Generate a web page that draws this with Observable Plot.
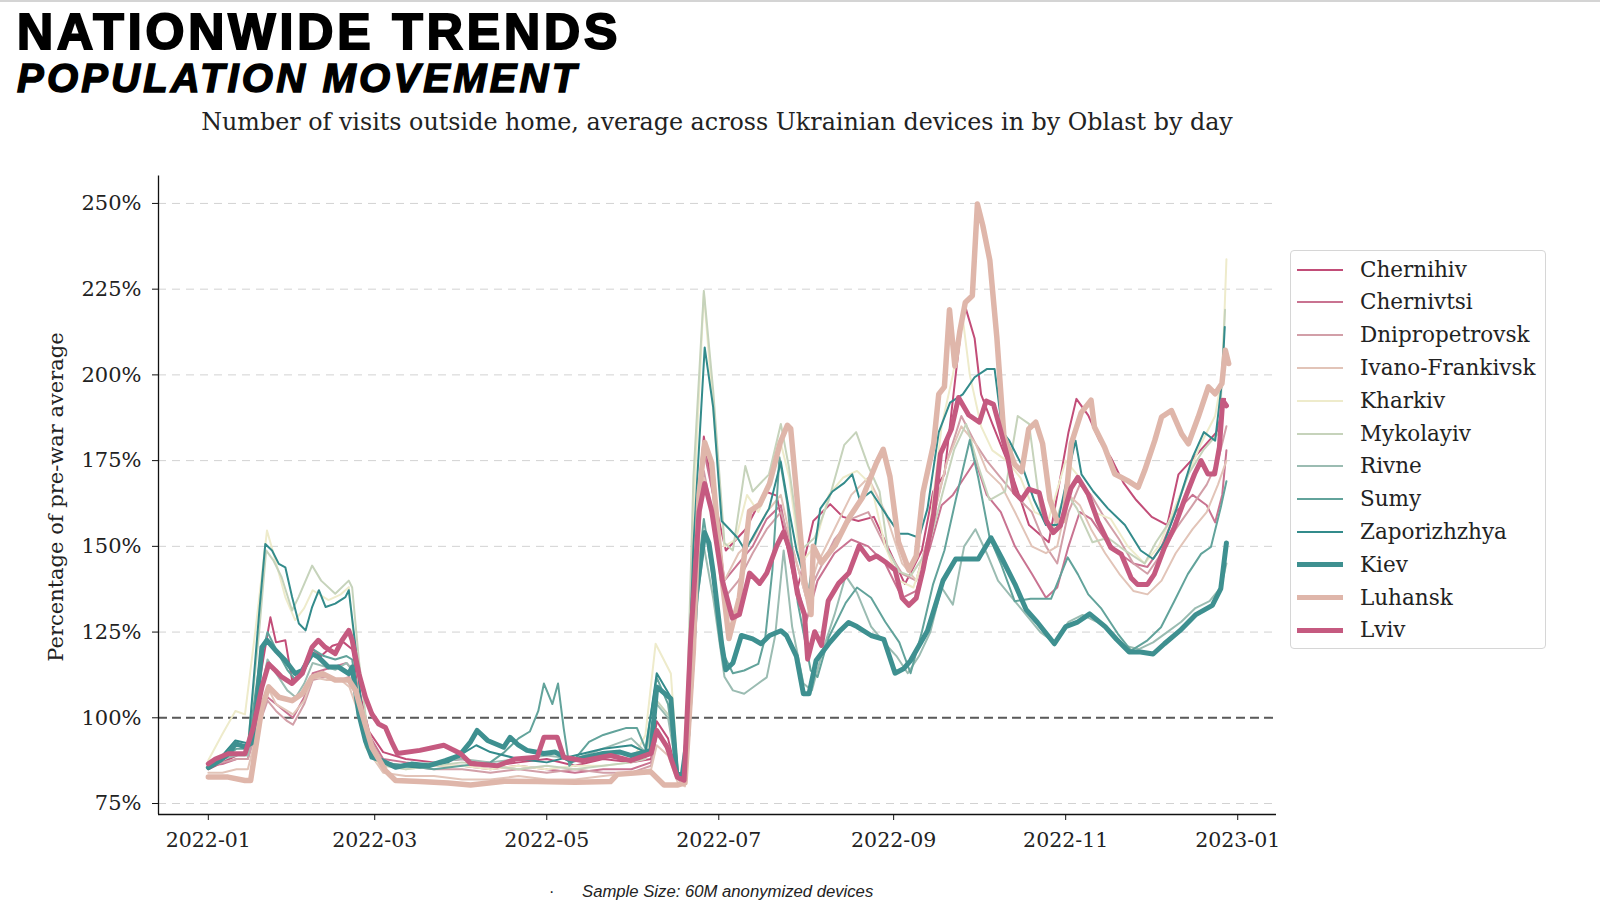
<!DOCTYPE html>
<html><head><meta charset="utf-8">
<script src="https://cdn.jsdelivr.net/npm/d3@7"></script>
<script src="https://cdn.jsdelivr.net/npm/@observablehq/plot@0.6"></script>
<style>
body{margin:0;background:#fff;width:1600px;height:911px;position:relative;overflow:hidden;font-family:"DejaVu Serif",serif;color:#222}
.topline{position:absolute;left:0;top:0;width:1600px;height:2px;background:#d4d4d4}
.t1{position:absolute;left:17px;top:6.7px;font:bold 50px/1 "Liberation Sans",Arial,sans-serif;letter-spacing:3.9px;-webkit-text-stroke:2px #000;color:#000;white-space:nowrap}
.t2{position:absolute;left:17px;top:58px;font:italic bold 40px/1 "Liberation Sans",Arial,sans-serif;letter-spacing:3.2px;-webkit-text-stroke:1.4px #000;color:#000;white-space:nowrap}
.sub{position:absolute;left:158px;width:1118px;top:110.5px;text-align:center;font:23.8px/1 "DejaVu Serif",serif;color:#222;white-space:nowrap;z-index:2}
.ylab{position:absolute;left:56px;top:497px;transform:translate(-50%,-50%) rotate(-90deg);font:21px/1 "DejaVu Serif",serif;color:#222;white-space:nowrap;z-index:2}
#chart{position:absolute;left:0;top:140px;z-index:1}
.legend{position:absolute;left:1290px;top:250px;width:256px;height:399px;border:1px solid #d6d6d6;border-radius:4px;background:#fff;box-sizing:border-box;z-index:2}
.li{position:absolute;left:0;height:22px;font:21.5px/22px "DejaVu Serif",serif;color:#222;white-space:nowrap}
.li span{position:absolute;left:69px;top:0}
.li i{position:absolute;left:6px;width:46px}
.foot{position:absolute;left:582px;top:884px;font:italic 16.7px/1 "Liberation Sans",Arial,sans-serif;color:#222;white-space:nowrap;z-index:2}
.dot{position:absolute;left:549px;top:884px;font:16px/1 "Liberation Sans",Arial,sans-serif;color:#222;z-index:2}
</style></head><body>
<div class="topline"></div>
<div class="t1">NATIONWIDE TRENDS</div>
<div class="t2">POPULATION MOVEMENT</div>
<div id="chart"></div>
<div class="sub">Number of visits outside home, average across Ukrainian devices in by Oblast by day</div>
<div class="ylab">Percentage of pre-war average</div>
<div class="legend" id="legend"></div>
<div class="dot">·</div>
<div class="foot">Sample Size: 60M anonymized devices</div>
<script>
// ---- data: [day offset from 2022-01-01, % of pre-war average] ----
const seriesNames = ["Chernihiv","Chernivtsi","Dnipropetrovsk","Ivano-Frankivsk","Kharkiv","Mykolayiv","Rivne","Sumy","Zaporizhzhya","Kiev","Luhansk","Lviv"];
const seriesColors = ["#c24d78","#c97391","#d29fa8","#e2c4b8","#eeebcb","#c6d3bb","#9bbcb2","#62a39b","#338b8b","#3e9090","#dfb6aa","#c55a80"];
const seriesWidths = [2,2,2,2,2,2,2,2,2,5,5.5,5];
const xTickLabels = ["2022-01","2022-03","2022-05","2022-07","2022-09","2022-11","2023-01"];
const yTicks = [75,100,125,150,175,200,225,250];

const chernihiv = [[0,85],[5,87],[10,89],[14,90],[18,110],[22,129.3],[24,122],[27.3,122.6],[29.7,111],[33,113],[37,120],[40,118],[44,121],[48,122],[51,120],[53.5,108],[57,96],[62,90],[70,88],[80,87],[90,88],[100,86],[110,87],[120,88],[130,86],[140,88],[150,87],[157,88],[159,99],[163,94],[166.5,82],[169,81],[172,150],[175.7,182],[179,165],[183.5,148.8],[190.5,155],[197.5,166],[201.5,164.8],[208.6,136.5],[214.5,157.4],[220.5,162.3],[225,158.6],[230.5,157.4],[236,158.6],[241.5,148.8],[247,139],[253,148.8],[257,166],[261,171],[265,200],[268,221],[271.7,210.7],[274,194.3],[278,185.7],[284,173.4],[291,156.2],[298,151.2],[305,183.3],[307.8,193],[312,188.2],[316,180.8],[320,175.9],[324.5,168.5],[329,163.5],[334.5,158.6],[340,156.2],[344,171],[349.5,175.9],[353.5,179.6],[357.5,183.3],[360.5,193]];
const chernivtsi = [[0,86],[5,86.5],[10,88],[14,88],[18,100],[21,106],[24,104],[27,102],[30,100],[34,106],[37,113],[41,114],[45,115],[49,116],[51,114],[53.5,106],[57,95],[62,88],[70,87],[80,86],[90,86],[100,85],[110,86],[120,85],[130,84],[140,85],[150,85],[157,87],[159,95],[163,92],[166.5,82],[169,81],[172,140],[175.7,178],[179,165],[183,140],[188,145],[193,150],[198,158],[203,162],[207,145],[212,128],[216,140],[222,148],[228,152],[234,150],[240,145],[246,135],[251,137],[256,150],[260,162],[264,165],[268,170],[272,175],[276,165],[281,160],[286,150],[292,142],[297,135],[301,138],[305,150],[309,160],[313,158],[318,152],[323,148],[328,145],[333,144],[338,150],[343,160],[349,165],[354,162],[357,157],[359.5,165],[361,178]];
const dnipropetrovsk = [[0,86],[5,87],[10,88],[14,88],[18,98],[21,105],[24,102],[28,99],[30,98],[34,104],[37,111],[42,112],[47,111],[50,112],[53,105],[57,94],[62,87],[70,86],[80,85],[90,85],[100,84],[110,85],[120,84],[130,85],[140,84],[150,84],[157,86],[159,96],[163,92],[166.5,82],[169,81],[172,145],[175.7,172],[179,158],[183,135],[188,140],[193,148],[198,155],[203,160],[207,150],[212,135],[216,142],[222,152],[228,158],[234,160],[240,150],[246,142],[251,140],[256,155],[262,175],[267,188],[272,180],[276,175],[281,170],[286,165],[292,160],[297,150],[301,145],[305,160],[309,168],[313,165],[318,158],[323,152],[328,145],[333,142],[338,148],[343,155],[349,162],[354,168],[358,175],[361,185]];
const ivanoFrankivsk = [[0,84],[5,84],[10,85],[14,85],[18,98],[21,109],[24,104],[28,102],[30,101],[34,105],[37,111.9],[42,111],[47,111],[50,109],[53,102],[57,90],[62,84],[70,83],[80,83],[90,82],[100,82],[110,83],[120,82],[130,82],[140,83],[150,84],[157,85],[159,92],[163,89],[166.5,81],[169,80],[172,135],[175.7,170],[179,160],[183,140],[188,148],[193,152],[198,160],[203,165],[207,150],[212,135],[216,145],[222,155],[228,165],[234,170],[240,160],[246,145],[251,140],[256,155],[262,175],[267,185],[272,180],[276,172],[281,168],[286,160],[292,150],[297,148],[301,150],[305,165],[309,162],[313,155],[318,148],[323,142],[328,137],[333,136],[338,140],[343,148],[349,155],[354,160],[358,168],[361,175]];
const kharkiv = [[0,87.6],[5,95.3],[9.6,102],[13,101],[16.7,125.5],[20.8,154.6],[23.8,145.9],[27.3,135.2],[30.8,128.5],[34,132],[37,137.2],[42.6,134.3],[47,136],[49.8,138.1],[52.2,118.7],[55.7,91.4],[60,87],[70,85],[80,86],[90,86],[100,85],[110,86],[120,85],[130,86],[140,86],[150,87],[155,95],[158.6,121.6],[164,112.9],[166.5,84],[169,81],[172,160],[175.7,223.9],[179,190],[183,150],[187,152],[191,165],[195,160],[199,168],[203,180],[206,170],[210,145],[215,150],[220,165],[225,170],[230,172],[235,168],[240,150],[245,140],[250,138],[255,150],[260,185],[264,200],[267.5,216.5],[270,200],[274,185],[278,178],[283,175],[288,170],[293,160],[298,158],[304,175],[309,170],[314,160],[320,158],[326,150],[332,145],[337,150],[342,160],[347,170],[352,180],[357,188],[359.5,200],[361,233.7]];
const mykolayiv = [[0,87],[5,89],[10,92],[14,92],[18,125],[20.5,148.8],[23,146],[26,141],[29.7,131.3],[32,135.2],[36.8,144.4],[40,140],[45,136.2],[49.8,140],[51,138],[53.4,116.7],[57,92.4],[62,86],[70,85],[80,86],[90,87],[100,86],[110,85],[120,86],[130,85],[140,86],[150,87],[155,88],[159,105],[164,100],[166.5,83],[169,82],[172,170],[175.7,224.5],[179,195.6],[183,151],[186,148.8],[190.4,173.4],[193,166],[198.8,171],[203,185.7],[205.8,173.4],[210,148.8],[215,152.5],[220,163.5],[225.5,179.6],[229.7,183.3],[234,173.4],[238,166],[241,148.8],[245,142.6],[249,141.4],[255,148.8],[260.5,166],[264.5,178.3],[268.7,185.7],[273,173.4],[277,163.5],[282.5,166],[287,188],[291,185.7],[295,161],[299,153.7],[304,166],[308,161],[313.5,151.2],[319,152.5],[325,148.8],[332,145],[336,151.2],[342,158.6],[347.5,171],[353,178.3],[358.5,183.3],[360.5,219]];
const rivne = [[0,87],[5,88],[10,89],[14,89],[18,105],[21,117],[24,113],[28,108],[31,106],[34,110],[37,116],[41,115],[45,114],[49,116],[51,114],[53.5,102],[57,92],[62,87],[70,86],[80,87],[90,88],[100,87],[110,88],[120,89],[130,88],[140,91],[150,94],[155,90],[159,104],[163,100],[166.5,83],[169,82],[172,125],[175.7,150],[179,135],[183,112],[186,108],[190,107],[194,109.4],[198,111.8],[201,124],[204,148.8],[207,126.6],[211,110],[214,108],[218,120],[222,130],[226,141.4],[230,136.5],[235,126.6],[240,121.6],[244,118],[248,113],[252,118],[256,125],[260,138],[264,133],[268,150],[272,155],[276,148],[280,140],[285,135],[290,130],[295,125],[300,122],[305,128],[310,130],[315,128],[320,125],[325,121],[330,120],[335,122],[340,125],[345,128],[350,132],[355,134],[359,138],[361,145]];
const sumy = [[0,85],[5,88],[10,91],[14,91],[18,115],[21,125],[24,120],[28,114],[31,111],[34,114],[37,120],[41,118],[45,117],[49,118],[51,117],[53.5,104],[57,92],[62,87],[70,86],[80,85],[90,86],[100,87],[105,90],[110,94],[114,96],[117,102],[119,110],[122,104],[124,110],[126,97],[128,86],[135,93],[140,95],[144,96],[148,97],[152,97],[155,91],[159,111.7],[163,104],[166.5,83],[169,82],[172,130],[175.7,158],[179,140],[183,118],[186,113],[190,113.8],[195,115.7],[197.5,123.5],[200,143],[202.5,176],[205.3,162.4],[209,133.5],[213.6,113.8],[216,111.9],[220,123.5],[226,133.5],[230,138],[235,135],[240,128],[245,122],[249,113],[253,125],[257,139],[261,148.8],[265,163.5],[270,181],[273,170],[277,152.7],[281,145],[285.9,134],[291.6,134.7],[298.8,134.7],[304.7,146.8],[308.3,141.9],[312,136],[316.5,132],[322.5,124.5],[327.2,119.6],[333,122.6],[337.8,126.4],[342.5,134],[347.3,141.9],[352,147.8],[355.5,149.8],[359,161.4],[361,169]];
const zaporizhzhya = [[0,86],[5,89],[9.6,93.4],[14.2,92.5],[18,130.3],[20.2,150.7],[22.6,148.8],[25,144.9],[27.3,143.9],[29.7,135.2],[32.1,127.5],[34.5,125.5],[36.8,132.3],[39.2,137.2],[41.6,132.3],[45,133.3],[48.6,135.2],[49.8,137.2],[52.2,120.6],[54.6,101.1],[57,91.4],[61.6,87.5],[66,86],[75,85.5],[85,87],[95,92],[100,90],[110,88],[120,87],[130,89],[140,91],[150,92],[155,90],[159,113],[164,106],[166.5,84],[169,82],[172,150],[176,208],[179,190.6],[182,157.4],[184.8,155],[187.6,152.5],[190.4,148.8],[194.6,155],[198.8,161],[203,174.6],[205.8,161],[208.6,148.8],[212.8,136.5],[217,161],[221.3,166],[225.5,168.5],[228.3,171],[231,163.5],[235,166],[240.9,158.6],[245,153.7],[248,153.7],[252,152.5],[255,161],[259,183.3],[263,191.9],[267.5,194.3],[271.7,199.3],[276,201.7],[278.8,201.7],[281.6,183.3],[284,180.8],[288.6,173.4],[292.8,163.5],[297,156.2],[301,156.2],[305.4,173.4],[307.5,180.8],[309.6,171],[313.8,166],[319,161],[325,156.2],[330.6,148.8],[335,146.3],[339,151.2],[343.3,161],[349,175.9],[353,183.3],[357,180.8],[359.4,198],[360.4,214]];
const kiev = [[0,85.5],[4,87.5],[7.2,89.5],[9.6,92.5],[13,91.5],[16,93],[19,120.6],[20.8,122.6],[23.8,119.7],[27.3,116.7],[30.8,112.9],[33.3,113.8],[36.8,118.7],[39,117.7],[42.6,114.8],[46.2,114.8],[49.8,112.9],[51,114.8],[53.4,101],[55.7,93.3],[58,88.5],[61.6,87.5],[66.4,85.6],[72,86.5],[78,86],[84,87.5],[89,89],[93,93],[95.3,96.3],[99,93.4],[104.7,91.4],[107,94.3],[110,92],[113,90.5],[119,89.6],[123,90],[128.5,87.5],[134,88.5],[140,89.6],[146,90],[150,89],[157,90.5],[159,109],[164,105.6],[166,84],[168,83],[170,95],[173,136],[176,154],[177.5,151],[179,142.6],[182,121.6],[183.5,114],[186,116],[189,124],[193,123],[196,121.6],[199,124],[203,125.4],[205,124],[208.5,118],[211,107],[213,107],[215.5,116.7],[220,121.6],[224,125.4],[227,127.8],[230,126.6],[235,124],[239.5,122.9],[243.5,113],[246.5,114.3],[249,116.7],[255,125.4],[260.5,140],[265,146.3],[269,146.3],[273,146.3],[277.5,152.5],[281.5,146.3],[286,139],[290,131.5],[294,127.8],[300,121.6],[304,126.6],[308,127.8],[312.5,130.3],[318,126.6],[322,122.9],[326.5,119.2],[330.5,119.2],[335,118.6],[339,121.6],[344.5,125.4],[350,130],[356,132.8],[359,137.7],[361,151]];
const luhansk = [[0,82.7],[7,82.7],[13,81.7],[15,81.7],[19,103],[21.4,109],[25,106],[29.7,105],[33.3,107],[36.8,111.9],[40.4,112.9],[45,111],[49.8,111],[52.2,108],[54.6,101],[58,91.4],[62.8,84.6],[66.4,81.7],[75,81.4],[85,81],[93,80.4],[105,81.5],[116.6,81.4],[130,81.2],[142.6,81.4],[145,83.5],[156.8,84.3],[161.6,80.4],[166.3,80.4],[169,81],[172,120],[174,165],[176,180.3],[178.5,174.3],[182.2,140.2],[184.6,123.1],[188.3,135.1],[191.9,160.2],[195.5,162.2],[199,168.3],[202.8,180.3],[205.3,185.3],[206.5,184.3],[211.4,140.2],[213.7,130.1],[214.5,150],[217.4,145.2],[222.2,150.2],[227.1,158.2],[232,164.3],[236.9,174.3],[239.3,178.3],[241.7,170.3],[244.7,151.3],[248.4,143.1],[251,147.2],[253.4,165.7],[257.2,180],[259,194.4],[261,196.5],[262.8,219],[264.7,202.6],[266.5,212.9],[268.4,221.1],[270.9,223.1],[272.7,249.8],[274.6,243.6],[277.1,233.4],[279.6,210.8],[282.1,182.1],[285.9,173.9],[288.4,171.8],[290.9,184.2],[293.4,186.2],[295.8,180],[298.4,163.6],[300.9,157.5],[303.3,157.5],[306,180],[309.5,189],[313,192.6],[314.2,184.8],[317.8,178.9],[321.4,171.1],[326.1,169.1],[329.7,167.2],[332,172.1],[335.6,180.9],[338,187.7],[341.5,189.6],[345.1,182.8],[347.5,179.9],[351,187.7],[354.6,196.5],[357,194.5],[359.4,197.5],[360.6,207.2],[361.8,203.3]];
const lviv = [[0,86.6],[2.5,88],[7,89.5],[13,89.5],[16,97.3],[19,109],[21.4,115.7],[23.8,113.8],[26,111.9],[29.7,110],[33.3,112.9],[36.8,120.6],[39,122.6],[41.4,120.6],[45,118.7],[47.4,122.6],[49.8,125.5],[51,122.6],[53.4,112.9],[55.7,106],[58,101.1],[60.4,98.2],[62.8,97.2],[65,93],[67,89.6],[75,90.5],[83.5,92],[89.4,89.6],[93,86.7],[102.4,86],[109,88],[116.6,88.5],[119,94.3],[123.7,94.3],[126,88.5],[133,87.5],[142.6,89],[149.7,87.5],[157,89.6],[159,96.3],[162.7,91.4],[166.3,82.7],[168.7,81.8],[171,122.5],[174,160],[176,168.3],[178.5,160.2],[182.2,140.2],[185.8,129.1],[188.3,130.1],[191.9,142.2],[195.5,139.2],[198,142.2],[201.6,150.2],[204,154.2],[206.5,148.2],[208.9,136.1],[211.4,130.1],[212.5,117.1],[215,125.1],[217.4,121.1],[219.8,134.1],[223.5,139.2],[227.1,142.2],[230.8,150.2],[234.4,146.2],[236.9,147.2],[240.5,145.2],[243.5,143.1],[246,134.9],[248.4,132.8],[251,134.9],[253.4,143.1],[257.2,159.5],[259.6,177],[263.5,184.2],[266,193.4],[269.6,188.3],[273.4,186.2],[275.8,192.4],[278.4,191.4],[280.8,184.2],[283.4,176],[285.9,165.7],[288.4,163.6],[290.9,166.7],[294.6,165.7],[297.1,157.5],[299.6,154],[302.1,156],[305.9,167],[308.3,170.1],[312,165.2],[315.4,157.4],[320,149.6],[323.7,147.7],[327.2,140.8],[329.5,138.9],[333,138.9],[335.4,141.8],[339,149.6],[342.5,155.5],[346,163.3],[349.7,171.1],[352,175],[354.4,171.1],[356.8,171.1],[358.5,178.9],[359.7,192.6],[361,191]];

const seriesData = [chernihiv,chernivtsi,dnipropetrovsk,ivanoFrankivsk,kharkiv,mykolayiv,rivne,sumy,zaporizhzhya,kiev,luhansk,lviv];

const base = Date.UTC(2022,0,1);
const toDate = d => new Date(base + d*86400000);
const rows = seriesNames.map((name,i) => seriesData[i].map(([d,v]) => ({series:name, date:toDate(d), value:v})));

const xDomain = [new Date(Date.UTC(2021,11,14,8)), new Date(Date.UTC(2023,0,14,18))];
const yDomain = [71.8, 258];
const xTicks = xTickLabels.map(s => new Date(s + "-01T00:00:00Z"));

const marks = [
  Plot.gridY(yTicks, {stroke:"#d2d2d2", strokeOpacity:1, strokeWidth:1, strokeDasharray:"8,6"}),
  Plot.ruleY([100], {stroke:"#5a5a5a", strokeWidth:2, strokeDasharray:"9,5"}),
  ...rows.map((r,i) => Plot.line(r, {x:"date", y:"value", stroke:seriesColors[i], strokeWidth:seriesWidths[i], strokeLinejoin:"round", strokeLinecap:"round"})),
  Plot.ruleX([xDomain[0]], {stroke:"#111", strokeWidth:1.3}),
  Plot.ruleY([yDomain[0]], {stroke:"#111", strokeWidth:1.3}),
  Plot.axisY(yTicks, {tickFormat:d => d + "%", tickSize:6, tickPadding:11, label:null, stroke:"#111", fontSize:21}),
  Plot.axisX(xTicks, {tickFormat:d3.utcFormat("%Y-%m"), tickSize:6, tickPadding:12, label:null, stroke:"#111", fontSize:20.5})
];

const chart = Plot.plot({
  width:1600, height:720,
  marginLeft:158, marginRight:324, marginTop:35.5, marginBottom:46,
  x:{type:"utc", domain:xDomain},
  y:{domain:yDomain},
  style:{fontFamily:"DejaVu Serif, serif", fontSize:"20px", color:"#222", background:"transparent", overflow:"visible"},
  marks
});
document.getElementById("chart").appendChild(chart);

// legend
const lg = document.getElementById("legend");
seriesNames.forEach((name,i) => {
  const div = document.createElement("div");
  div.className = "li";
  div.style.top = (7.5 + i*32.8) + "px";
  const sw = document.createElement("i");
  sw.style.height = seriesWidths[i] + "px";
  sw.style.top = (11 - seriesWidths[i]/2) + "px";
  sw.style.background = seriesColors[i];
  const sp = document.createElement("span");
  sp.textContent = name;
  div.appendChild(sw); div.appendChild(sp);
  lg.appendChild(div);
});
</script>
</body></html>
